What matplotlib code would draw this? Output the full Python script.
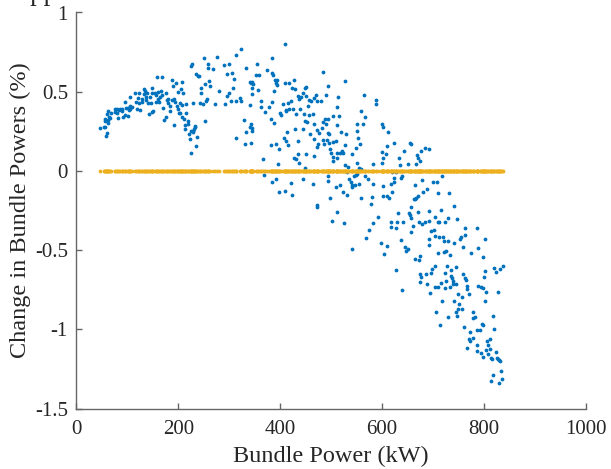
import matplotlib
matplotlib.use("Agg")
import matplotlib.pyplot as plt
import numpy as np

# ---- data (x: bundle power kW, y: change %) ----
power_a = [46.7, 53.9, 57.2, 58.5, 61.2, 55.9, 57.2, 61.8, 62.5, 65.1, 66.4, 60.5, 62.5, 67.7, 75.6, 76.9,
           78.9, 79.5, 83.5, 82.2, 86.1, 88.7, 90.1, 91.4, 95.3, 96.6, 95.3, 100.6, 101.9, 103.2, 105.8, 105.8,
           104.5, 108.5, 115, 117.7, 119, 122.9, 121.6, 124.2, 122.9, 128.2, 129.5, 132.1, 133.4, 134.7, 136.1,
           137.4, 139.3, 141.3, 142.6, 143.9, 145.9, 147.9, 149.2, 150.5, 149.2, 154.4, 155.8, 157.1, 158.4,
           159.7, 161, 162.3, 163.6, 165.6, 168.9, 167.6, 170.2, 172.8, 175.5, 176.8, 178.1, 179.4, 180.7,
           183.4, 184.7, 187.3, 188.6, 189.9, 191.2, 192.6, 193.9, 195.2, 197.8, 199.1, 200.4, 201.8, 203.1,
           203.1, 205.7, 207, 207, 208.3, 209.6, 210.9, 212.3, 213.6, 214.9, 216.2, 218.8, 220.1, 221.5, 222.8,
           224.1, 225.4, 226.7, 228, 229.3, 230.7, 232, 233.3, 234.6, 235.9, 225.4, 234.6, 237.9, 241.2, 228,
           242.5, 243.8, 245.1, 247.7, 251.7, 253, 254.3, 255.6, 257.6, 258.3, 260.9, 262.2, 268.8, 271.4,
           279.3, 289.8, 292.4, 295, 296.4, 299, 300.3, 303, 305.6, 308.2, 309.5, 251, 276]
change_a = [0.269, 0.278, 0.274, 0.221, 0.240, 0.316, 0.330, 0.322, 0.305, 0.341, 0.334, 0.358, 0.376, 0.368,
            0.393, 0.372, 0.389, 0.364, 0.385, 0.334, 0.393, 0.378, 0.389, 0.343, 0.351, 0.399, 0.435, 0.347,
            0.399, 0.385, 0.393, 0.410, 0.465, 0.406, 0.492, 0.435, 0.393, 0.494, 0.463, 0.385, 0.431, 0.456,
            0.435, 0.515, 0.484, 0.505, 0.469, 0.448, 0.494, 0.431, 0.358, 0.469, 0.431, 0.372, 0.525, 0.378,
            0.494, 0.494, 0.477, 0.435, 0.595, 0.456, 0.498, 0.435, 0.469, 0.505, 0.595, 0.477, 0.399, 0.322,
            0.494, 0.343, 0.448, 0.431, 0.456, 0.378, 0.410, 0.448, 0.574, 0.536, 0.288, 0.456, 0.435, 0.553,
            0.410, 0.498, 0.389, 0.368, 0.364, 0.431, 0.515, 0.561, 0.414, 0.343, 0.494, 0.330, 0.288, 0.263,
            0.368, 0.420, 0.316, 0.295, 0.232, 0.200, 0.253, 0.662, 0.675, 0.253, 0.246, 0.263, 0.274, 0.284,
            0.158, 0.217, 0.112, 0.610, 0.599, 0.599, 0.431, 0.431, 0.525, 0.494, 0.420, 0.547, 0.316, 0.441,
            0.456, 0.673, 0.652, 0.568, 0.536, 0.641, 0.420, 0.505, 0.666, 0.420, 0.610, 0.473, 0.673, 0.494,
            0.441, 0.620, 0.525, 0.578, 0.710, 0.718]

power_b = [323.5, 313.6, 333.3, 354.3, 410.2, 384.6, 374.7, 384.6, 385.9, 353, 358.3, 342.5, 345.1, 346.5,
           339.9, 345.1, 343.8, 355.6, 389.8, 393.8, 391.1, 393.8, 408.9, 417.4, 426.6, 424, 428.6, 320.2,
           313.6, 324.1, 339.9, 362.2, 361.6, 378, 384.6, 387.2, 405.6, 415.4, 417.4, 422, 425.3, 435.1, 436.5,
           441.7, 445, 450.3, 449.6, 451.6, 456.8, 454.9, 461.4, 466, 470, 471.3, 483.1, 493, 489.7, 479.2,
           438.4, 431.9, 412.2, 410.8, 369.4, 399, 401.6, 381.9, 387.2, 328.1, 342.5, 341.2, 343.8, 343.8,
           333.3, 313.6, 413.5, 428.6, 447, 456.8, 464.7, 448.3, 452.9, 445, 458.1, 466, 472.6, 476.5, 481.1,
           488.4, 494.3, 483.1, 489.7, 493, 496.2, 504.1, 514.6, 512, 513.3, 510.7, 527.1, 563.9, 588.2, 588.2,
           558, 566.5, 563.3, 550.1, 551.4, 553.4, 556.7, 540.3, 548.8, 529.1, 519.2, 509.4, 502.8, 486.4,
           472.6, 497.6, 500.2, 504.1, 510.7, 517.3, 521.2, 523.8, 510.7, 504.1, 473.9, 435.8, 451.6, 466,
           435.8, 430.5, 426.6, 408.2, 410.8, 415.4, 391.1, 381.9, 397.7, 342.5, 330, 365.5, 396.4, 437.1,
           448.3, 527.1, 533.7, 551.4, 554.1, 558, 583, 466, 483.1, 491, 495.6, 526.5]
change_b = [0.771, 0.729, 0.651, 0.676, 0.798, 0.714, 0.636, 0.620, 0.603, 0.603, 0.603, 0.556, 0.561, 0.546,
            0.561, 0.521, 0.487, 0.508, 0.577, 0.577, 0.552, 0.542, 0.552, 0.552, 0.577, 0.525, 0.519, 0.458,
            0.441, 0.441, 0.416, 0.441, 0.405, 0.403, 0.435, 0.504, 0.422, 0.426, 0.393, 0.441, 0.389, 0.470,
            0.452, 0.468, 0.494, 0.529, 0.521, 0.473, 0.449, 0.410, 0.441, 0.462, 0.479, 0.441, 0.626, 0.536,
            0.477, 0.441, 0.389, 0.357, 0.378, 0.382, 0.370, 0.363, 0.351, 0.325, 0.305, 0.319, 0.294, 0.277,
            0.252, 0.269, 0.248, 0.210, 0.248, 0.267, 0.357, 0.353, 0.357, 0.315, 0.311, 0.265, 0.235, 0.298,
            0.256, 0.242, 0.273, 0.325, 0.325, 0.311, 0.294, 0.242, 0.231, 0.347, 0.347, 0.290, 0.466, 0.403,
            0.567, 0.481, 0.449, 0.420, 0.378, 0.340, 0.294, 0.294, 0.252, 0.210, 0.168, 0.109, 0.147, 0.235,
            0.248, 0.189, 0.185, 0.168, 0.153, 0.137, 0.111, 0.088, 0.115, 0.115, 0.126, 0.115, 0.080, 0.063,
            0.168, 0.189, 0.105, 0.095, 0.105, 0.074, 0.084, 0.206, 0.189, 0.164, 0.168, 0.164, 0.137, 0.174,
            0.168, 0.078, 0.042, 0.050, 0.021, 0.038, 0.025, 0.052, 0.021, 0.011, 0.042, 0.200, 0.193, 0.193,
            0.178, 0.164]

power_c = [367.5, 384.6, 391.1, 397, 410.2, 424, 420.7, 445, 464.1, 493.6, 493.6, 471.9, 471.3, 498.2, 510.7,
           500.8, 510, 517.3, 522.5, 530.4, 525.8, 534.4, 539, 540.3, 541.6, 546.8, 544.9, 548.8, 551.4, 554.1,
           559.3, 567.2, 571.8, 583, 581, 579, 583, 573.8, 569.2, 540.3, 530.4]
change_c = [-0.026, -0.073, -0.052, -0.136, -0.129, -0.152, -0.079, -0.052, -0.085, -0.035, -0.062, -0.216,
            -0.230, -0.173, -0.262, -0.318, -0.100, -0.087, -0.136, -0.150, -0.327, -0.052, -0.073, -0.090,
            -0.104, -0.090, -0.031, -0.026, -0.022, -0.081, -0.171, -0.035, -0.048, -0.083, -0.167, -0.207,
            -0.329, -0.375, -0.425, -0.493, -0.006]

power_d = [599.5, 601.4, 611.3, 623.8, 609.3, 600.1, 607.3, 602.7, 598.8, 632.3, 634.3, 642.2, 655.3, 656.6,
           677, 684.9, 692.7, 668.4, 670.4, 675, 667.1, 650, 618.5, 627.7, 718.4, 622.5, 636.9, 638.9, 622.5,
           678.3, 699.3, 707.9, 617.9, 602.1, 665.2, 688.2, 680.3, 710.5, 730.9, 602.7, 609.3, 613.9, 619.2,
           663.8, 666.5, 669.8, 661.9, 657.3, 741.4, 716.4, 592.2, 631.6, 652, 654.6, 656.6, 669.8, 691.4,
           703.3, 616.5, 616.5, 627.1, 629, 641.5, 660.6, 671.7, 678.3, 683.6, 692.7, 709.8, 711.8, 724.3,
           728.9, 746, 696.7, 701.3, 656, 761.7, 785.4]
change_d = [0.294, 0.280, 0.246, 0.179, 0.158, 0.120, 0.106, 0.080, 0.047, 0.080, 0.038, 0.127, 0.179, 0.169,
            0.127, 0.143, 0.141, 0.099, 0.082, 0.061, 0.045, 0.045, -0.004, -0.006, -0.035, -0.044, -0.044,
            -0.031, -0.067, -0.056, -0.067, -0.069, -0.084, -0.096, -0.090, -0.115, -0.136, -0.142, -0.138,
            -0.157, -0.157, -0.168, -0.136, -0.178, -0.168, -0.161, -0.178, -0.226, -0.222, -0.247, -0.294,
            -0.266, -0.268, -0.277, -0.300, -0.258, -0.256, -0.289, -0.325, -0.352, -0.361, -0.325, -0.321,
            -0.350, -0.325, -0.338, -0.321, -0.319, -0.325, -0.325, -0.325, -0.300, -0.306, -0.380, -0.371,
            -0.388, -0.363, -0.359]

power_e = [597.5, 609.3, 604.1, 637.6, 645.4, 650.7, 646.8, 692.7, 692.7, 704.6, 711.1, 719.7, 722.3, 728.9,
           742, 752.5, 755.2, 762.4, 801.8, 757.8, 788.7, 709.8, 721, 726.3, 734.1, 774.2, 797.2, 673.7, 664.5,
           671.7, 627.7, 639.5, 675, 677, 673.7, 686.8, 696, 698.7, 703.3, 688.8, 703.9, 710.5, 694.7, 716.4,
           724.3, 726.9, 736.1, 744, 735.5, 737.4, 738.7, 724.9, 739.4, 745.3, 732.8, 723, 759.1, 761.7, 765,
           765.7, 767, 770.9, 748.6, 755.8, 788.7, 793.3, 797.2, 803.1, 799.8, 801.2, 820.2, 824.2, 832, 837.9,
           827.4, 801.2, 750.6, 742, 717.1, 705.2, 744, 748.6, 756.5, 777.5]
change_e = [-0.457, -0.476, -0.524, -0.438, -0.482, -0.493, -0.507, -0.430, -0.467, -0.411, -0.419, -0.415,
            -0.444, -0.440, -0.455, -0.427, -0.419, -0.402, -0.432, -0.482, -0.486, -0.516, -0.514, -0.507,
            -0.528, -0.516, -0.541, -0.539, -0.556, -0.562, -0.623, -0.755, -0.650, -0.671, -0.703, -0.654,
            -0.646, -0.619, -0.598, -0.713, -0.730, -0.734, -0.768, -0.709, -0.644, -0.602, -0.623, -0.606,
            -0.661, -0.677, -0.692, -0.698, -0.713, -0.713, -0.734, -0.740, -0.650, -0.675, -0.686, -0.724,
            -0.745, -0.780, -0.780, -0.793, -0.724, -0.730, -0.738, -0.766, -0.671, -0.629, -0.612, -0.640,
            -0.621, -0.602, -0.766, -0.824, -0.843, -0.822, -0.822, -0.892, -0.892, -0.873, -0.873, -0.892]

power_f = [728.9, 747.3, 778.8, 781.4, 816.9, 713.1, 761.1, 772.9, 786.7, 792, 795.9, 798.5, 819.6, 770.9,
           772.2, 777.5, 766.3, 785.4, 785.4, 793.3, 797.2, 803.1, 806.4, 807.7, 811.7, 812.3, 807.1, 813,
           816.3, 822.8, 825.5, 827.4, 828.7, 830.7, 832.7, 818.2, 834.7, 814.3, 828.7]
change_f = [-0.923, -0.918, -0.929, -0.923, -0.916, -0.975, -0.986, -1.017, -1.002, -1.007, -0.965, -0.975,
            -0.998, -1.059, -1.074, -1.055, -1.118, -1.097, -1.137, -1.147, -1.175, -1.133, -1.076, -1.101,
            -1.063, -1.126, -1.156, -1.181, -1.185, -1.141, -1.179, -1.185, -1.196, -1.202, -1.263, -1.286,
            -1.315, -1.328, -1.340]

x_ticks = [0, 200, 400, 600, 800, 1000]
x_tick_labels = ["0", "200", "400", "600", "800", "1000"]
y_ticks = [-1.5, -1, -0.5, 0, 0.5, 1]
y_tick_labels = ["-1.5", "-1", "-0.5", "0", "0.5", "1"]
x_label = "Bundle Power (kW)"
y_label = "Change in Bundle Powers (%)"
caption_fragment = "suppressed."

power = np.array(power_a + power_b + power_c + power_d + power_e + power_f)
change = np.array(change_a + change_b + change_c + change_d + change_e + change_f)
baseline = np.zeros_like(power)

# ---- figure ----
plt.rcParams['font.family'] = ['Liberation Serif', 'DejaVu Serif']
plt.rcParams['axes.unicode_minus'] = False

W, H = 611, 469
fig = plt.figure(figsize=(W / 100, H / 100), dpi=100)
left_px, right_px, top_px, bottom_px = 76.3, 586.0, 12.5, 408.5
ax = fig.add_axes([left_px / W, 1 - bottom_px / H, (right_px - left_px) / W, (bottom_px - top_px) / H])

ax.scatter(power, change, s=7.5, color='#0072BD', linewidths=0, zorder=2)
ax.scatter(power, baseline, s=7.5, color='#EDB120', linewidths=0, zorder=3)

ax.set_xlim(0, 1000)
ax.set_ylim(-1.5, 1)
ax.set_xticks(x_ticks)
ax.set_xticklabels(x_tick_labels)
ax.set_yticks(y_ticks)
ax.set_yticklabels(y_tick_labels)

axis_col = '#666666'
text_col = '#262626'
for side in ['top', 'right']:
    ax.spines[side].set_visible(False)
for side in ['left', 'bottom']:
    ax.spines[side].set_color(axis_col)
    ax.spines[side].set_linewidth(1.0)
ax.tick_params(direction='in', length=4, width=1.0, color=axis_col,
               labelsize=15, labelcolor=text_col)
ax.tick_params(axis='x', pad=8)
ax.tick_params(axis='y', pad=6)

ax.set_xlabel(x_label, fontsize=17.5, color=text_col)
ax.set_ylabel(y_label, fontsize=17.5, color=text_col)
ax.xaxis.set_label_coords(0.5, (bottom_px - 446.0) / (bottom_px - top_px))
ax.yaxis.set_label_coords((31.0 - left_px) / (right_px - left_px), 0.5)

fig.text(7.0 / W, 1 - 0.2 / H, caption_fragment, fontsize=19.5, color=text_col,
         ha='left', va='baseline')

fig.savefig("out.png", dpi=100)
